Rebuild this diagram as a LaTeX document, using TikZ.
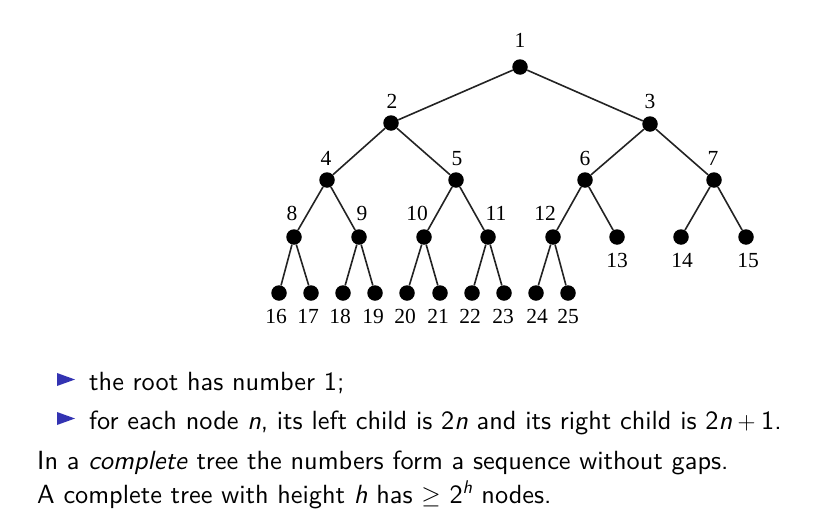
\documentclass[tikz,border=0pt]{standalone}
\usepackage{fontspec}
\setsansfont{lmsans10-regular.otf}[ItalicFont=lmsans10-oblique.otf,BoldFont=lmsans10-bold.otf]
\newfontfamily\treefont{Liberation Serif}
\definecolor{bulletblue}{RGB}{51,51,178}
\definecolor{edgegray}{RGB}{35,35,35}
\tikzset{
  dot/.style={circle,fill=black,inner sep=0pt,minimum size=15.5pt},
  lab/.style={anchor=base,inner sep=0pt,font=\treefont\fontsize{21.5}{24}\selectfont},
  edge/.style={draw=edgegray,line width=1.6pt},
  txt/.style={anchor=base west,inner sep=0pt,font=\sffamily\fontsize{26.3}{30}\selectfont}
}
\begin{document}
\begin{tikzpicture}[x=1pt,y=-1pt]
\useasboundingbox (0,0) rectangle (824,522);
% tree nodes
\foreach \n/\x/\y in {1/520/67, 2/391/123, 3/650/124,
  4/327/180, 5/456/180, 6/585/180, 7/714/180,
  8/294/237, 9/359/237, 10/424/237, 11/488/237, 12/553/237, 13/617/237, 14/681/237, 15/746/237,
  16/279/293, 17/311/293, 18/343/293, 19/375/293, 20/407/293, 21/440/293, 22/472/293, 23/504/293, 24/536/293, 25/568/293}
  \node[dot] (n\n) at (\x,\y) {};
% edges
\foreach \p in {1,...,12} {
  \pgfmathtruncatemacro{\l}{2*\p}
  \pgfmathtruncatemacro{\r}{2*\p+1}
  \ifnum\l<26 \path[edge] (n\p) -- (n\l); \fi
  \ifnum\r<26 \path[edge] (n\p) -- (n\r); \fi
}
% labels
\foreach \n/\x/\y in {1/520/47, 2/392/108, 3/650/108,
  4/326/165, 5/457/165, 6/585/165, 7/713/165,
  8/292/220, 9/362/220, 10/417/220, 11/496/220, 12/545/220,
  13/617/267, 14/682/267, 15/748/267,
  16/276/323, 17/308/323, 18/340/323, 19/373/323, 20/405/323, 21/438/323, 22/470/323, 23/503/323, 24/537/323, 25/568/323}
  \node[lab] (l\n) at (\x,\y) {\n};
% bullets
\fill[bulletblue] (57,373) -- (75,379.5) -- (57,386) -- cycle;
\fill[bulletblue] (57,412) -- (75,418.5) -- (57,425) -- cycle;
% text
\node[txt] (t1) at (89,390) {the root has number 1;};
\node[txt] (t2) at (89,429) {for each node \textit{n}, its left child is 2\textit{n} and its right child is 2\textit{n}${}+{}$1.};
\node[txt] (t3) at (37,469) {In a \textit{complete} tree the numbers form a sequence without gaps.};
\node[txt] (t4) at (37,503) {A complete tree with height \textit{h} has $\geq$ 2\textsuperscript{\itshape h} nodes.};
\end{tikzpicture}
\end{document}
